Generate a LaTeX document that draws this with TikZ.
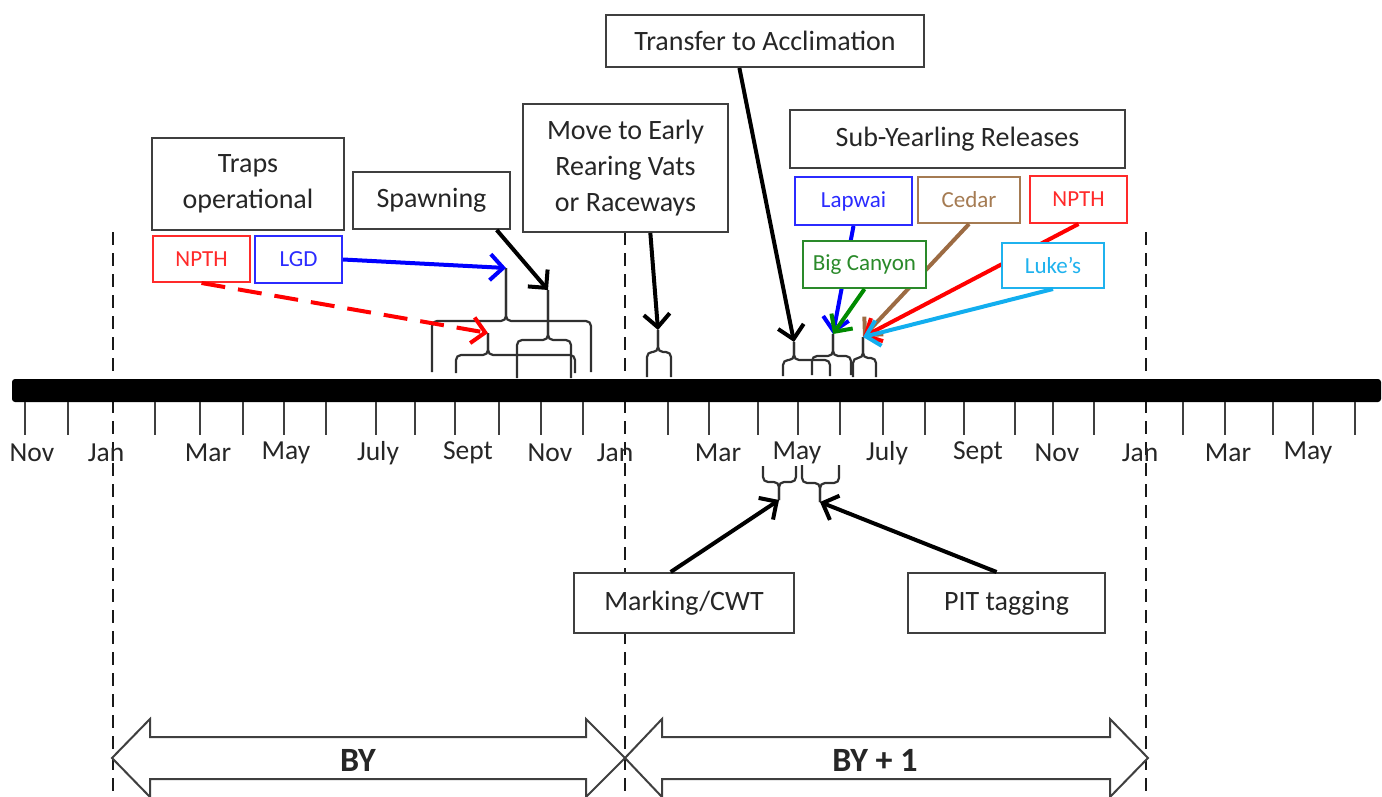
\documentclass[tikz,border=0pt]{standalone}
\usepackage{fontspec}
\setmainfont{Carlito}
\usetikzlibrary{arrows.meta,calc}
\definecolor{boxgray}{HTML}{3F3F3F}
\definecolor{txt}{HTML}{262626}
\definecolor{bracegray}{HTML}{303030}
\definecolor{cred}{HTML}{FF2A2A}
\definecolor{cblue}{HTML}{2B2BFF}
\definecolor{cbrown}{HTML}{A57B52}
\definecolor{cgreen}{HTML}{2A8A2A}
\definecolor{ccyan}{HTML}{1FB2EE}
\definecolor{ared}{HTML}{FF0000}
\definecolor{ablue}{HTML}{0000FF}
\definecolor{abrown}{HTML}{9C6B43}
\definecolor{agreen}{HTML}{008A00}
\definecolor{acyan}{HTML}{12AEEF}
\newcommand{\ubr}[7]{%
  \draw[brc] (#2,#5) -- (#2,#6) -- (#4,#6) -- (#4,#7);
  \draw[brc] (#3,#5) -- (#3,#6) -- (#4,#6) -- (#4,#7);
  \coordinate (#1) at (#4,#7);}
\begin{document}
\begin{tikzpicture}[x=1pt,y=-1pt,
  box/.style={draw=boxgray, line width=2pt, fill=white, inner sep=0pt, align=center,
    font=\fontsize{28}{36}\selectfont, text=txt},
  cbox/.style={draw=#1, line width=2pt, fill=white, inner sep=0pt, text=#1,
    font=\fontsize{23}{28}\selectfont},
  mon/.style={font=\fontsize{27.5}{32}\selectfont, text=txt, inner sep=0pt},
  tick/.style={draw=boxgray, line width=2pt},
  dashline/.style={draw=black!90, line width=2pt, dash pattern=on 13pt off 8pt},
  brc/.style={draw=bracegray, line width=2.2pt, rounded corners=5pt},
  arr/.style={line width=4pt, -{Straight Barb[length=13pt,width=26pt]}},
  dbl/.style={draw=boxgray, line width=2pt, fill=white},
  yr/.style={font=\bfseries\fontsize{34}{40}\selectfont, text=txt, inner sep=0pt}
]
\useasboundingbox (0,0) rectangle (1382,797);

% dashed year separators
\draw[dashline] (113,232) -- (113,797);
\draw[dashline] (625,232) -- (625,797);
\draw[dashline] (1146,232) -- (1146,797);

% timeline bar
\fill[black, rounded corners=3pt] (12,379) rectangle (1381,402);
\foreach \x in {25,68,155,200,243,284,326,376,415,455,499,541,583,668,709,758,798,840,883,925,964,1015,1053,1094,1183,1225,1273,1313,1355}
  \draw[tick] (\x,402) -- (\x,435);

% month labels
\foreach \x/\t [count=\i] in {32/Nov,106/Jan,208/Mar,286/May,378/July,468/Sept,550/Nov,615/Jan,718/Mar,797/May,887/July,978/Sept,1057/Nov,1140/Jan,1228/Mar,1308/May}
  \node[mon] (m\i) at (\x,453) {\t};

% braces above the bar
\ubr{tipA}{432}{591}{506}{372}{321}{268}
\ubr{tipB}{456}{575}{488}{373}{355}{333}
\ubr{tipC}{517}{571}{548}{378}{340}{290}
\ubr{tipI}{647}{671}{658}{377}{352}{330}
\ubr{tipD}{783}{830}{794}{376}{360}{342}
\ubr{tipE}{812}{851}{833}{375}{356}{334}
\ubr{tipF}{853}{876}{863}{377}{358}{337}
% braces below the bar
\ubr{tipG}{763}{796}{779}{466}{482}{500}
\ubr{tipH}{802}{839}{820}{465}{483}{502}

% boxes
\node[box, minimum width=192pt, minimum height=92pt] (traps) at (248,184) {Traps\\operational};
\node[box, minimum width=157pt, minimum height=57pt] (spawn) at (431.5,200.5) {Spawning};
\node[cbox=cred, minimum width=97pt, minimum height=46pt] (npthL) at (201.5,259) {NPTH};
\node[cbox=cblue, minimum width=87pt, minimum height=47pt] (lgd) at (298.5,259.5) {LGD};
\node[box, minimum width=205pt, minimum height=128pt] (move) at (625.5,168) {Move to Early\\Rearing Vats\\or Raceways};
\node[box, minimum width=318pt, minimum height=52pt] (transfer) at (765,41) {Transfer to Acclimation};
\node[box, minimum width=335pt, minimum height=58pt] (subyear) at (957.5,139) {Sub-Yearling Releases};
\node[cbox=cblue, minimum width=117pt, minimum height=48pt] (lapwai) at (853.5,201) {Lapwai};
\node[cbox=cbrown, minimum width=102pt, minimum height=46pt] (cedar) at (969,200) {Cedar};
\node[cbox=cred, minimum width=97pt, minimum height=47pt] (npthR) at (1078.5,199.5) {NPTH};
\node[box, minimum width=220pt, minimum height=60pt] (marking) at (684,603) {Marking/CWT};
\node[box, minimum width=197pt, minimum height=60pt] (pit) at (1006.5,603) {PIT tagging};

% arrows
\draw[arr, ablue] (lgd.east) -- (tipA);
\draw[arr, ared, dash pattern=on 24pt off 13pt] (npthL.south) -- (tipB);
\draw[arr, black] ($(spawn.south west)!0.91!(spawn.south east)$) -- (tipC);
\draw[arr, black] ($(move.south west)!0.62!(move.south east)$) -- (tipI);
\draw[arr, black] ($(transfer.south west)!0.42!(transfer.south east)$) -- (tipD);
\draw[arr, ablue] (lapwai.south) -- (tipE);
\draw[arr, abrown] (cedar.south) -- (tipF);
\draw[arr, ared] (npthR.south) -- (tipF);
\draw[arr, black] ($(marking.north west)!0.44!(marking.north east)$) -- (tipG);
\draw[arr, black] ($(pit.north west)!0.45!(pit.north east)$) -- (tipH);

% boxes drawn on top of the lines passing behind them
\node[cbox=cgreen, minimum width=123pt, minimum height=47pt] (bigc) at (864.5,264.5) {Big Canyon};
\node[cbox=ccyan, minimum width=102pt, minimum height=45pt] (lukes) at (1053,265.5) {Luke’s};
\draw[arr, agreen] (bigc.south) -- (tipE);
\draw[arr, acyan] (lukes.south) -- (tipF);

% year arrows
\draw[dbl] (112,758) -- (150,719) -- (150,737) -- (586,737) -- (586,719) -- (625,758)
  -- (586,797) -- (586,779) -- (150,779) -- (150,797) -- cycle;
\draw[dbl] (625,758) -- (662,719) -- (662,737) -- (1110,737) -- (1110,719) -- (1148,758)
  -- (1110,797) -- (1110,779) -- (662,779) -- (662,797) -- cycle;
\node[yr] (by) at (358,760) {BY};
\node[yr] (byone) at (875,760) {BY + 1};
\end{tikzpicture}
\end{document}
